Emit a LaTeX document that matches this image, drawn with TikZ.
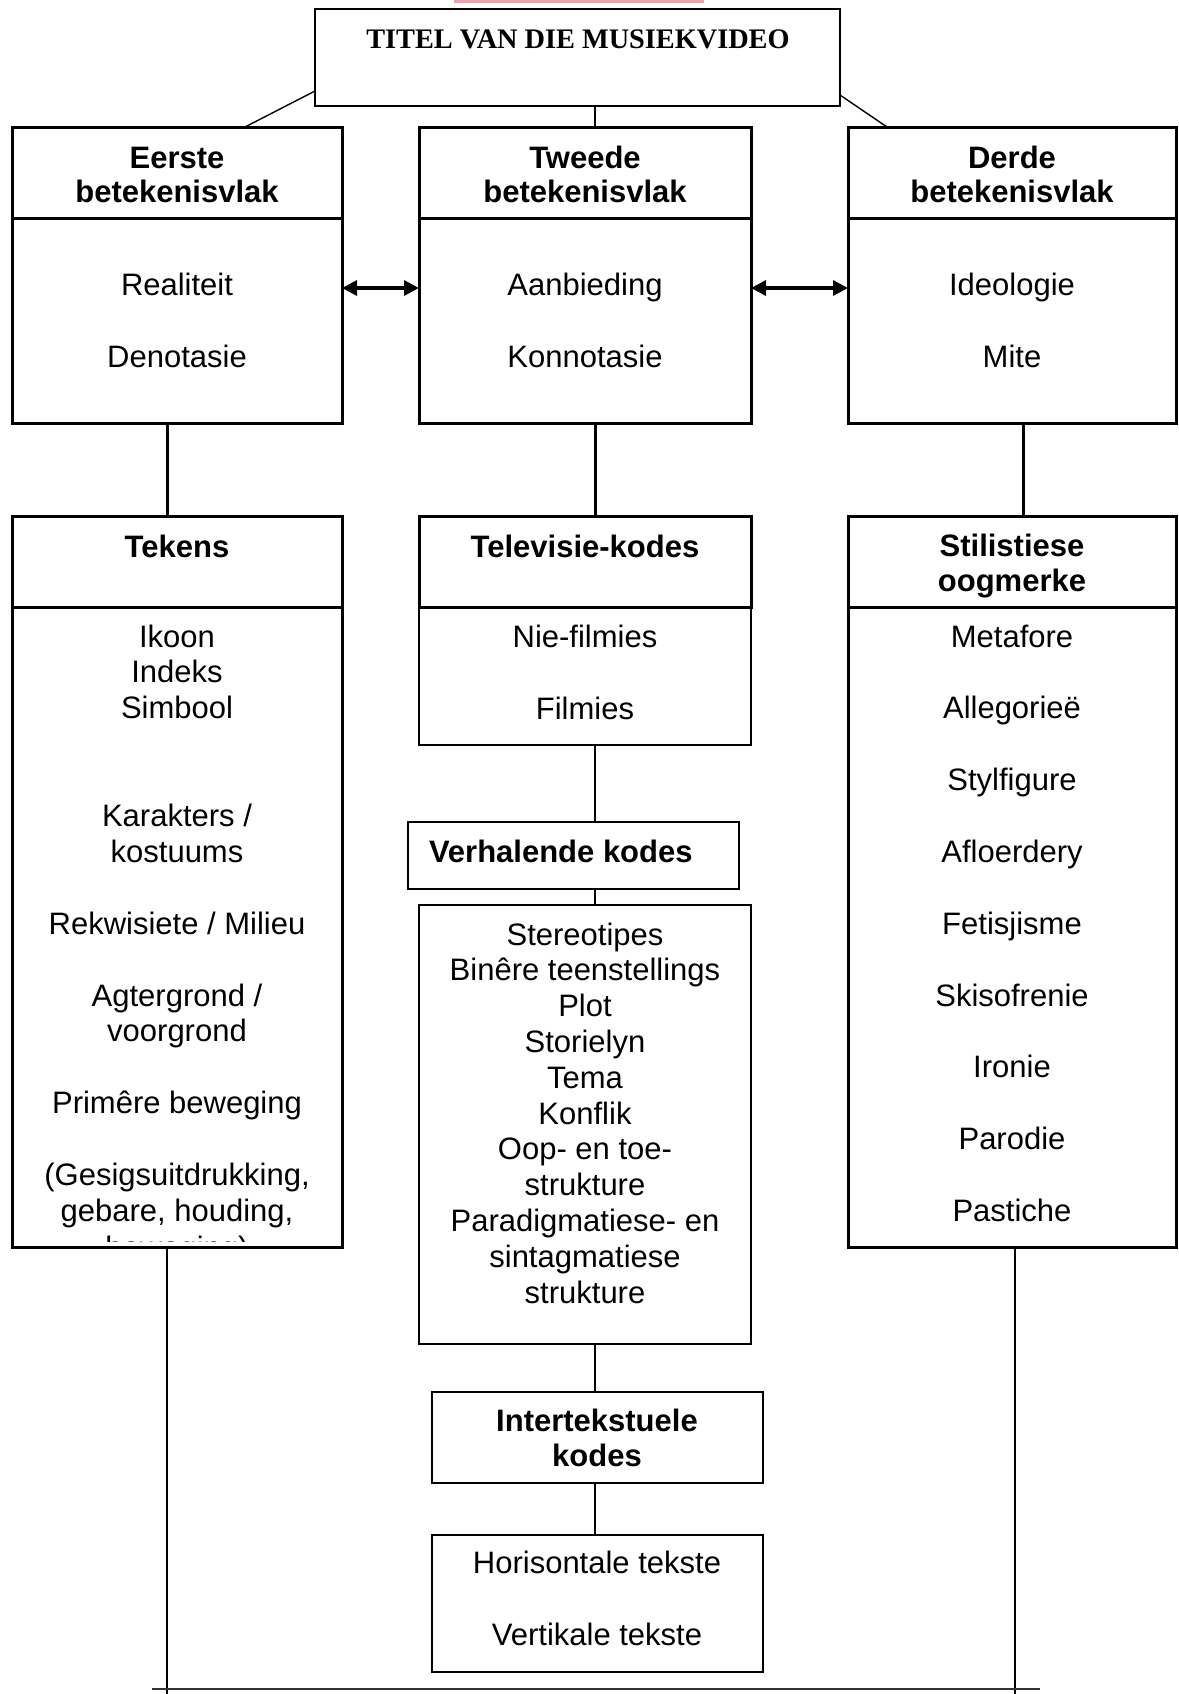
\documentclass[tikz,border=0pt]{standalone}
\usepackage{fontspec}
\setmainfont{Liberation Sans}
\newfontfamily\titlefont{Liberation Serif}
\usetikzlibrary{arrows.meta}
\definecolor{pinkline}{RGB}{238,160,170}
\begin{document}
\begin{tikzpicture}[x=0.5pt,y=-0.5pt,
  thinbox/.style={draw, line width=0.7pt, inner sep=0pt, outer sep=0pt, anchor=north west},
  thickbox/.style={thinbox, line width=1.5pt},
  txt/.style={inner sep=0pt, outer sep=0pt, anchor=base, font=\fontsize{15.5pt}{17.9pt}\selectfont},
  hdr/.style={inner sep=0pt, outer sep=0pt, anchor=base, font=\fontsize{15.5pt}{17.9pt}\selectfont\bfseries},
  ttl/.style={inner sep=0pt, outer sep=0pt, anchor=base, font=\fontsize{14.15pt}{16pt}\selectfont\titlefont\bfseries},
  thinline/.style={line width=0.7pt},
  thickline/.style={line width=1.5pt},
  dblarrow/.style={line width=1.6pt, {Triangle[length=7.5pt,width=7.5pt]}-{Triangle[length=7.5pt,width=7.5pt]}}
]
\useasboundingbox (0,0) rectangle (1179,1694);
\fill[pinkline] (454,0) rectangle (704,2.5);

% helper coordinates
\coordinate (hdA) at (0,218);
\coordinate (hdB) at (0,607);
\coordinate (ay) at (0,288);
\coordinate (cL) at (167,0);
\coordinate (cM) at (595,0);
\coordinate (cR) at (1023,0);
\coordinate (cR2) at (1015,0);
\coordinate (tlA) at (0,91);
\coordinate (tlB) at (245,0);
\coordinate (trA) at (0,95);
\coordinate (trB) at (887,0);
\coordinate (bL) at (167,1694);
\coordinate (bR) at (1015,1694);
\coordinate (bl1) at (152,1689);
\coordinate (bl2) at (1040,1689);

% boxes
\node[thinbox, minimum width=262.5pt, minimum height=48.5pt] (title) at (315,9) {};
\node[thickbox, minimum width=165pt, minimum height=148pt] (e1) at (12,127) {};
\node[thickbox, minimum width=166pt, minimum height=148pt] (e2) at (419,127) {};
\node[thickbox, minimum width=164.25pt, minimum height=148pt] (e3) at (848,127) {};
\node[thickbox, minimum width=165pt, minimum height=365.5pt] (tek) at (12,516) {};
\node[thinbox, minimum width=166pt, minimum height=114.5pt] (tv) at (419,516) {};
\node[thickbox, minimum width=166pt, minimum height=45.5pt] (tvh) at (419,516) {};
\node[thickbox, minimum width=164.25pt, minimum height=365.5pt] (sti) at (848,516) {};
\node[thinbox, minimum width=165.5pt, minimum height=33.5pt] (verh) at (408,822) {};
\node[thinbox, minimum width=166pt, minimum height=219.5pt] (ster) at (419,905) {};
\node[thinbox, minimum width=165.5pt, minimum height=45.5pt] (inter) at (432,1392) {};
\node[thinbox, minimum width=165.5pt, minimum height=68.5pt] (hor) at (432,1535) {};

% header dividers
\draw[thickline] (e1.west |- hdA) -- (e1.east |- hdA);
\draw[thickline] (e2.west |- hdA) -- (e2.east |- hdA);
\draw[thickline] (e3.west |- hdA) -- (e3.east |- hdA);
\draw[thickline] (tek.west |- hdB) -- (tek.east |- hdB);
\draw[thickline] (sti.west |- hdB) -- (sti.east |- hdB);

% connectors
\draw[thinline] (title.south -| cM) -- (e2.north -| cM);
\draw[thinline] (title.west |- tlA) -- (e1.north -| tlB);
\draw[thinline] (title.east |- trA) -- (e3.north -| trB);
\draw[dblarrow] (e1.east |- ay) -- (e2.west |- ay);
\draw[dblarrow] (e2.east |- ay) -- (e3.west |- ay);
\draw[thickline] (e1.south -| cL) -- (tek.north -| cL);
\draw[thickline] (e2.south -| cM) -- (tvh.north -| cM);
\draw[thickline] (e3.south -| cR) -- (sti.north -| cR);
\draw[thinline] (tv.south -| cM) -- (verh.north -| cM);
\draw[thinline] (verh.south -| cM) -- (ster.north -| cM);
\draw[thinline] (ster.south -| cM) -- (inter.north -| cM);
\draw[thinline] (inter.south -| cM) -- (hor.north -| cM);
\draw[thinline] (tek.south -| cL) -- (bL);
\draw[thinline] (sti.south -| cR2) -- (bR);
\draw[line width=1pt, black!80] (bl1) -- (bl2);

% title
\node[ttl] (ttext) at (578,48) {TITEL VAN DIE MUSIEKVIDEO};

% first row texts
\node[hdr] (e1h1) at (177,168) {Eerste};
\node[hdr] (e1h2) at (177,202) {betekenisvlak};
\node[txt] (e1t1) at (177,295) {Realiteit};
\node[txt] (e1t2) at (177,367) {Denotasie};
\node[hdr] (e2h1) at (585,168) {Tweede};
\node[hdr] (e2h2) at (585,202) {betekenisvlak};
\node[txt] (e2t1) at (585,295) {Aanbieding};
\node[txt] (e2t2) at (585,367) {Konnotasie};
\node[hdr] (e3h1) at (1012,168) {Derde};
\node[hdr] (e3h2) at (1012,202) {betekenisvlak};
\node[txt] (e3t1) at (1012,295) {Ideologie};
\node[txt] (e3t2) at (1012,367) {Mite};

% Tekens
\node[hdr] (tekh) at (177,557) {Tekens};
\begin{scope}
\clip (13.5,608.5) rectangle (340.5,1241.5);
\node[txt] (tk1) at (177,647) {Ikoon};
\node[txt] (tk2) at (177,682.9) {Indeks};
\node[txt] (tk3) at (177,718.8) {Simbool};
\node[txt] (tk4) at (177,826.5) {Karakters /};
\node[txt] (tk5) at (177,862.4) {kostuums};
\node[txt] (tk6) at (177,934.2) {Rekwisiete / Milieu};
\node[txt] (tk7) at (177,1006) {Agtergrond /};
\node[txt] (tk8) at (177,1041.9) {voorgrond};
\node[txt] (tk9) at (177,1113.7) {Primêre beweging};
\node[txt] (tk10) at (177,1185.5) {(Gesigsuitdrukking,};
\node[txt] (tk11) at (177,1221.4) {gebare, houding,};
\node[txt] (tk12) at (177,1258) {beweging)};
\end{scope}

% Televisie-kodes
\node[hdr] (tvt) at (585,557) {Televisie-kodes};
\node[txt] (tv1) at (585,647) {Nie-filmies};
\node[txt] (tv2) at (585,719) {Filmies};

% Stilistiese oogmerke
\node[hdr] (stih1) at (1012,556) {Stilistiese};
\node[hdr] (stih2) at (1012,591) {oogmerke};
\node[txt] (st1) at (1012,647) {Metafore};
\node[txt] (st2) at (1012,718.8) {Allegorieë};
\node[txt] (st3) at (1012,790.6) {Stylfigure};
\node[txt] (st4) at (1012,862.4) {Afloerdery};
\node[txt] (st5) at (1012,934.2) {Fetisjisme};
\node[txt] (st6) at (1012,1006) {Skisofrenie};
\node[txt] (st7) at (1012,1077.8) {Ironie};
\node[txt] (st8) at (1012,1149.6) {Parodie};
\node[txt] (st9) at (1012,1221.4) {Pastiche};

% Verhalende kodes
\node[hdr, anchor=base west] (verht) at (429,862) {Verhalende kodes};
\node[txt] (sr1) at (585,945) {Stereotipes};
\node[txt] (sr2) at (585,980.8) {Binêre teenstellings};
\node[txt] (sr3) at (585,1016.6) {Plot};
\node[txt] (sr4) at (585,1052.4) {Storielyn};
\node[txt] (sr5) at (585,1088.2) {Tema};
\node[txt] (sr6) at (585,1124) {Konflik};
\node[txt] (sr7) at (585,1159.8) {Oop- en toe-};
\node[txt] (sr8) at (585,1195.6) {strukture};
\node[txt] (sr9) at (585,1231.4) {Paradigmatiese- en};
\node[txt] (sr10) at (585,1267.2) {sintagmatiese};
\node[txt] (sr11) at (585,1303) {strukture};

% Intertekstuele kodes
\node[hdr] (inh1) at (597,1431) {Intertekstuele};
\node[hdr] (inh2) at (597,1466) {kodes};
\node[txt] (ho1) at (597,1573) {Horisontale tekste};
\node[txt] (ho2) at (597,1645) {Vertikale tekste};
\end{tikzpicture}
\end{document}
